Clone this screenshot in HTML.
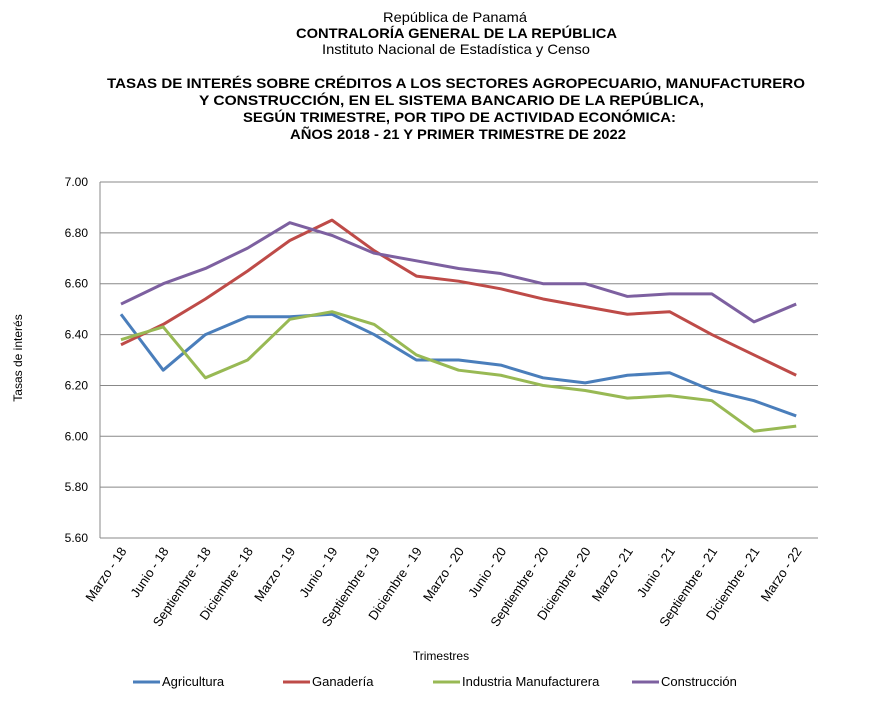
<!DOCTYPE html>
<html><head><meta charset="utf-8"><style>
body{margin:0;background:#fff;}
svg{font-family:"Liberation Sans",Arial,sans-serif;}
</style></head><body>
<svg id="s" width="879" height="697" xmlns="http://www.w3.org/2000/svg">
<text x="383" y="22" font-size="14" textLength="144" lengthAdjust="spacingAndGlyphs">República de Panamá</text>
<text x="296" y="38" font-size="14" font-weight="bold" textLength="321" lengthAdjust="spacingAndGlyphs">CONTRALORÍA GENERAL DE LA REPÚBLICA</text>
<text x="322" y="54" font-size="14" textLength="268" lengthAdjust="spacingAndGlyphs">Instituto Nacional de Estadística y Censo</text>
<g font-size="14" font-weight="bold" lengthAdjust="spacingAndGlyphs">
<text x="107" y="88" textLength="698" lengthAdjust="spacingAndGlyphs">TASAS  DE INTERÉS SOBRE  CRÉDITOS A LOS SECTORES  AGROPECUARIO, MANUFACTURERO</text>
<text x="199" y="105" textLength="505" lengthAdjust="spacingAndGlyphs">Y CONSTRUCCIÓN, EN EL SISTEMA BANCARIO DE  LA REPÚBLICA,</text>
<text x="243" y="122" textLength="433" lengthAdjust="spacingAndGlyphs">SEGÚN TRIMESTRE,  POR TIPO DE ACTIVIDAD ECONÓMICA:</text>
<text x="290" y="139" textLength="336" lengthAdjust="spacingAndGlyphs">AÑOS 2018 - 21 Y PRIMER TRIMESTRE DE 2022</text>
</g>
<text transform="translate(22,358) rotate(-90)" font-size="12" text-anchor="middle">Tasas de interés</text>
<text x="441" y="660" font-size="12" text-anchor="middle">Trimestres</text>
<g id="g"></g>
</svg>
<script>
var g=document.getElementById('g'),h='';
function Y(v){return 182+(7-v)*254.3;}
for(var i=0;i<=7;i++){var v=7-i*0.2,y=Y(v);h+='<line x1="100" x2="818" y1="'+y+'" y2="'+y+'" stroke="#888" stroke-width="1"/>';h+='<text x="88" y="'+(y+4)+'" font-size="12" text-anchor="end">'+v.toFixed(2)+'</text>';}
h+='<line x1="100" x2="100" y1="182" y2="538" stroke="#888"/>';
var L=["Marzo - 18","Junio - 18","Septiembre - 18","Diciembre - 18","Marzo - 19","Junio - 19","Septiembre - 19","Diciembre - 19","Marzo - 20","Junio - 20","Septiembre - 20","Diciembre - 20","Marzo - 21","Junio - 21","Septiembre - 21","Diciembre - 21","Marzo - 22"];
function X(i){return 121+i*42.2;}
L.forEach(function(l,i){h+='<text transform="translate('+(X(i)+6)+',551) rotate(-56)" font-size="13" text-anchor="end">'+l+'</text>';});
var S=[["#4a7ebb",[6.48,6.26,6.40,6.47,6.47,6.48,6.40,6.30,6.30,6.28,6.23,6.21,6.24,6.25,6.18,6.14,6.08]],
["#be4b48",[6.36,6.44,6.54,6.65,6.77,6.85,6.73,6.63,6.61,6.58,6.54,6.51,6.48,6.49,6.40,6.32,6.24]],
["#98b954",[6.38,6.43,6.23,6.30,6.46,6.49,6.44,6.32,6.26,6.24,6.20,6.18,6.15,6.16,6.14,6.02,6.04]],
["#7d60a0",[6.52,6.60,6.66,6.74,6.84,6.79,6.72,6.69,6.66,6.64,6.60,6.60,6.55,6.56,6.56,6.45,6.52]]];
S.forEach(function(s){h+='<polyline fill="none" stroke="'+s[0]+'" stroke-width="3" stroke-linejoin="round" points="'+s[1].map(function(v,i){return X(i)+','+Y(v);}).join(' ')+'"/>';});
var lg=[[133,"Agricultura"],[283,"Ganadería"],[433,"Industria Manufacturera"],[632,"Construcción"]];
lg.forEach(function(e,i){h+='<line x1="'+e[0]+'" x2="'+(e[0]+27)+'" y1="682" y2="682" stroke="'+S[i][0]+'" stroke-width="3"/><text x="'+(e[0]+29)+'" y="686" font-size="13">'+e[1]+'</text>';});
g.innerHTML=h;
</script>
</body></html>
